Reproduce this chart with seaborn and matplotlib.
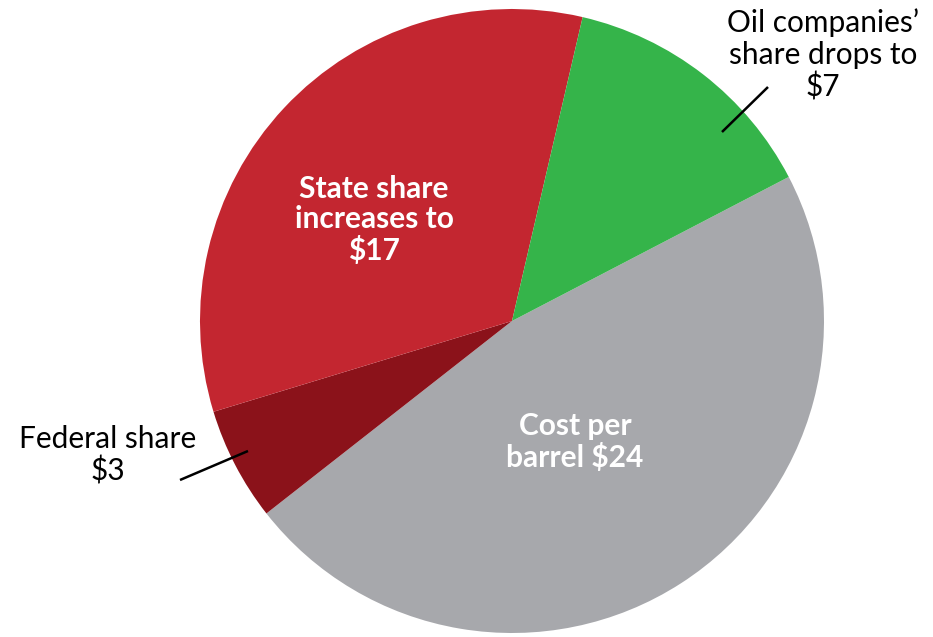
import matplotlib
matplotlib.use("Agg")
import matplotlib.pyplot as plt
import seaborn as sns

# Share of each barrel's value, in dollars
categories = ["Cost per barrel", "Federal share", "State share", "Oil companies' share"]
values = [24, 3, 17, 7]
colors = ["#A7A8AC", "#8B121A", "#C32630", "#35B44A"]

sns.set_theme(style="white")
plt.rcParams["font.family"] = ["Lato", "DejaVu Sans"]

W, H = 933, 637
fig = plt.figure(figsize=(W / 100, H / 100), dpi=100)
ax = fig.add_axes([0, 0, 1, 1])

# pie centre and radius in pixels
cx, cy, r = 512, 321, 312
ax.pie(values, colors=colors, startangle=27.5, counterclock=False,
       radius=1, center=(0, 0), wedgeprops=dict(linewidth=0))

ax.set_xlim(-cx / r, (W - cx) / r)
ax.set_ylim(-(H - cy) / r, cy / r)
ax.set_aspect("auto")
ax.axis("off")


def px(x, y):
    return ((x - cx) / r, (cy - y) / r)


ax.text(*px(374, 220), "State share\nincreases to\n$17", color="white",
        fontsize=21.5, fontweight="bold", ha="center", va="center",
        linespacing=1.12)
ax.text(*px(575, 442), "Cost per\nbarrel $24", color="white",
        fontsize=21.5, fontweight="bold", ha="center", va="center",
        linespacing=1.12)
ax.text(*px(108, 455), "Federal share\n$3", color="black",
        fontsize=21.5, ha="center", va="center", linespacing=1.15)
ax.text(*px(823, 55), "Oil companies\u2019\nshare drops to\n$7", color="black",
        fontsize=21.5, ha="center", va="center", linespacing=1.15)

# leader lines
x0, y0 = px(180, 480)
x1, y1 = px(248, 451)
ax.plot([x0, x1], [y0, y1], color="black", lw=1.8, solid_capstyle="butt")
x0, y0 = px(722, 132)
x1, y1 = px(768, 87)
ax.plot([x0, x1], [y0, y1], color="black", lw=1.8, solid_capstyle="butt")

fig.savefig("out.png", dpi=100, facecolor="white")
